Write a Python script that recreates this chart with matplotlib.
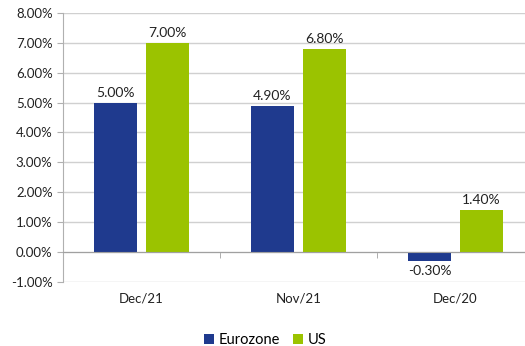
import numpy as np
import matplotlib.pyplot as plt

categories = ['Dec/21', 'Nov/21', 'Dec/20']
eurozone = [5.00, 4.90, -0.30]
us = [7.00, 6.80, 1.40]

plt.rcParams['font.family'] = ['Lato', 'DejaVu Sans']

fig = plt.figure(figsize=(5.25, 3.46), dpi=100)
ax = fig.add_axes([0.12, 0.186, 0.88, 0.776])

x = np.arange(len(categories))
w = 0.274
b1 = ax.bar(x - 0.166, eurozone, w, color='#1F3A8E', label='Eurozone', zorder=3)
b2 = ax.bar(x + 0.166, us, w, color='#9BC300', label='US', zorder=3)

for bars in (b1, b2):
    for r in bars:
        v = r.get_height()
        y = v + 0.12 if v >= 0 else v - 0.15
        ax.text(r.get_x() + r.get_width() / 2, y, f'{v:.2f}%', ha='center',
                va='bottom' if v >= 0 else 'top', fontsize=10, color='#222222')

ax.set_ylim(-1, 8)
ax.set_xlim(-0.5, 2.443)
ax.set_yticks(np.arange(-1, 9, 1))
ax.set_yticklabels([f'{v:.2f}%' for v in np.arange(-1, 9, 1)])
ax.grid(axis='y', color='#d0d0d0', linewidth=1, zorder=0)

ax.spines['top'].set_visible(False)
ax.spines['right'].set_visible(False)
ax.spines['left'].set_color('#b0b0b0')
ax.spines['bottom'].set_color('#a0a0a0')
ax.spines['bottom'].set_position(('data', 0))
ax.spines['bottom'].set_zorder(4)

ax.set_xticks(x)
ax.set_xticklabels(categories)
ax.set_xticks([0.5, 1.5], minor=True)
ax.tick_params(axis='x', which='major', length=0, pad=29, labelsize=9.5, colors='#222222')
ax.tick_params(axis='x', which='minor', length=4, color='#a0a0a0')
ax.tick_params(axis='y', length=4, color='#b0b0b0', labelsize=9.5, labelcolor='#222222')

fig.legend(loc='center', bbox_to_anchor=(0.505, 0.018), ncol=2, frameon=False,
           fontsize=10.5, handlelength=0.7, handleheight=0.7, handletextpad=0.3,
           columnspacing=0.9)

fig.savefig('out.png', dpi=100)
